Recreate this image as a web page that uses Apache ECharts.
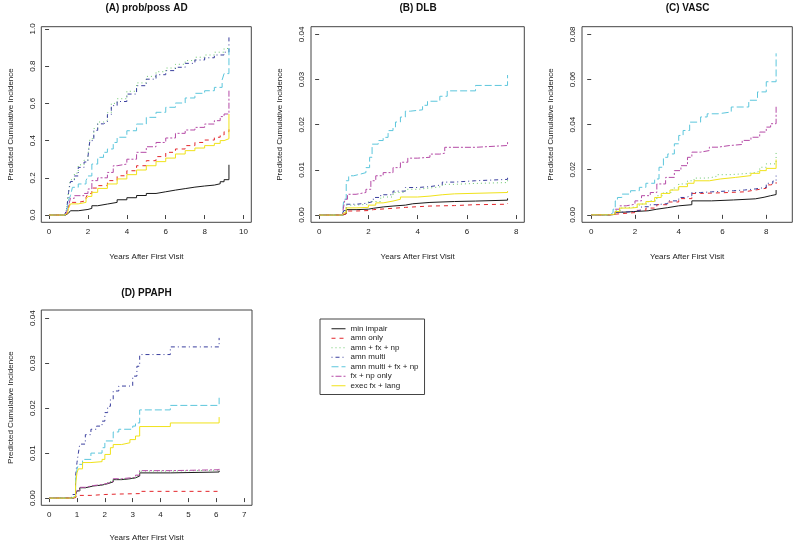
<!DOCTYPE html>
<html>
<head>
<meta charset="utf-8">
<script src="https://cdn.jsdelivr.net/npm/echarts@6.0.0/dist/echarts.min.js"></script>
<style>
html,body{margin:0;padding:0;background:#fff;}
#chart{width:800px;height:546px;}
</style>
</head>
<body>
<div id="chart"></div>
<script>
// ---------- labels ----------
const seriesNames = ["min impair", "amn only", "amn + fx + np", "amn multi", "amn multi + fx + np", "fx + np only", "exec fx + lang"];
const panelTitles = ["(A) prob/poss AD", "(B) DLB", "(C) VASC", "(D) PPAPH"];
const xAxisTitle = "Years After First Visit";
const yAxisTitle = "Predicted Cumulative Incidence";

// ---------- tick labels ----------
const xTicksA = [0, 2, 4, 6, 8, 10];
const yTicksA = [0, 0.2, 0.4, 0.6, 0.8, 1.0];
const xTicksB = [0, 2, 4, 6, 8];
const yTicksB = [0, 0.01, 0.02, 0.03, 0.04];
const xTicksC = [0, 2, 4, 6, 8];
const yTicksC = [0, 0.02, 0.04, 0.06, 0.08];
const xTicksD = [0, 1, 2, 3, 4, 5, 6, 7];
const yTicksD = [0, 0.01, 0.02, 0.03, 0.04];

// ---------- (A) prob/poss AD : [years, cumulative incidence] ----------
const AD_minImpair = [[0,0],[0.85,0.004],[0.95,0.01],[1.0,0.014],[1.1,0.023],[1.5,0.03],[2.0,0.036],[2.2,0.05],[2.5,0.059],[3.0,0.068],[3.5,0.082],[4.0,0.093],[4.5,0.105],[5.0,0.116],[5.5,0.125],[6.0,0.134],[6.5,0.142],[7.0,0.15],[7.5,0.156],[8.0,0.161],[8.5,0.168],[8.8,0.179],[9.0,0.19],[9.25,0.19],[9.25,0.27]];
const AD_amnOnly = [[0,0],[0.8,0.003],[0.9,0.01],[0.95,0.025],[1.0,0.045],[1.1,0.068],[1.5,0.077],[1.9,0.095],[2.0,0.116],[2.2,0.145],[2.5,0.158],[3.0,0.185],[3.5,0.211],[4.0,0.238],[4.5,0.265],[5.0,0.292],[5.5,0.314],[6.0,0.337],[6.5,0.355],[7.0,0.373],[7.5,0.39],[8.0,0.403],[8.5,0.418],[8.8,0.43],[9.0,0.448],[9.25,0.448],[9.25,0.46]];
const AD_amnFxNp = [[0,0],[0.8,0.005],[0.9,0.03],[0.95,0.08],[1.0,0.13],[1.1,0.19],[1.3,0.225],[1.5,0.27],[1.8,0.295],[2.0,0.325],[2.1,0.41],[2.3,0.465],[2.5,0.5],[2.8,0.51],[3.0,0.55],[3.2,0.6],[3.5,0.625],[4.0,0.665],[4.5,0.71],[5.0,0.745],[5.5,0.77],[6.0,0.79],[6.5,0.81],[7.0,0.83],[7.5,0.848],[8.0,0.86],[8.5,0.875],[9.0,0.895],[9.25,0.895],[9.25,0.9]];
const AD_amnMulti = [[0,0],[0.8,0.005],[0.9,0.03],[0.95,0.07],[1.0,0.12],[1.1,0.18],[1.3,0.21],[1.5,0.256],[1.8,0.285],[2.0,0.315],[2.1,0.4],[2.3,0.455],[2.5,0.49],[2.8,0.5],[3.0,0.54],[3.2,0.588],[3.5,0.61],[4.0,0.65],[4.5,0.695],[5.0,0.73],[5.5,0.754],[6.0,0.776],[6.5,0.794],[7.0,0.815],[7.5,0.833],[8.0,0.845],[8.5,0.86],[9.0,0.875],[9.25,0.88],[9.25,0.955]];
const AD_amnMultiFxNp = [[0,0],[0.8,0.005],[0.9,0.02],[0.95,0.05],[1.0,0.08],[1.1,0.104],[1.2,0.149],[1.5,0.167],[1.9,0.185],[2.0,0.21],[2.2,0.274],[2.5,0.31],[2.8,0.337],[3.0,0.355],[3.3,0.39],[3.5,0.418],[4.0,0.453],[4.5,0.489],[5.0,0.525],[5.5,0.552],[6.0,0.579],[6.5,0.602],[7.0,0.629],[7.5,0.654],[8.0,0.668],[8.5,0.686],[8.9,0.726],[9.0,0.76],[9.25,0.76],[9.25,0.9]];
const AD_fxNpOnly = [[0,0],[0.8,0.004],[0.9,0.015],[0.95,0.03],[1.0,0.05],[1.1,0.09],[1.3,0.104],[1.8,0.116],[2.0,0.14],[2.2,0.185],[2.5,0.2],[3.0,0.229],[3.3,0.265],[3.5,0.274],[4.0,0.3],[4.5,0.337],[5.0,0.367],[5.5,0.39],[6.0,0.414],[6.5,0.439],[7.0,0.457],[7.5,0.471],[8.0,0.489],[8.5,0.507],[8.8,0.529],[9.0,0.543],[9.25,0.543],[9.25,0.677]];
const AD_execFxLang = [[0,0],[0.8,0.003],[0.9,0.01],[0.95,0.02],[1.0,0.035],[1.1,0.06],[1.5,0.068],[1.9,0.086],[2.0,0.1],[2.2,0.122],[2.5,0.143],[3.0,0.167],[3.5,0.194],[4.0,0.217],[4.5,0.242],[5.0,0.265],[5.5,0.287],[6.0,0.306],[6.5,0.328],[7.0,0.346],[7.5,0.36],[8.0,0.373],[8.5,0.385],[8.8,0.4],[9.0,0.41],[9.25,0.41],[9.25,0.543]];

// ---------- (B) DLB ----------
const DLB_minImpair = [[0,0],[0.95,0.0001],[1.0,0.0003],[1.1,0.0012],[1.5,0.0013],[2.0,0.0015],[2.2,0.0018],[2.6,0.002],[3.0,0.0022],[3.5,0.0025],[3.8,0.0028],[4.5,0.003],[5.5,0.0031],[6.35,0.0033],[7.65,0.0035],[7.65,0.0037]];
const DLB_amnOnly = [[0,0],[0.95,0.0001],[1.0,0.0003],[1.1,0.0009],[1.5,0.001],[2.0,0.0012],[2.2,0.0015],[3.0,0.0017],[3.5,0.002],[4.5,0.0021],[5.5,0.0023],[6.35,0.0024],[7.65,0.0025],[7.65,0.0026]];
const DLB_amnFxNp = [[0,0],[0.95,0.0003],[1.0,0.001],[1.1,0.0022],[1.5,0.0024],[2.0,0.003],[2.5,0.004],[3.0,0.005],[3.5,0.0057],[4.0,0.006],[4.5,0.0063],[5.0,0.0068],[5.5,0.007],[6.3,0.0072],[7.65,0.0073],[7.65,0.0077]];
const DLB_amnMulti = [[0,0],[0.95,0.0003],[1.0,0.001],[1.1,0.0024],[1.5,0.0026],[1.9,0.003],[2.2,0.0039],[2.5,0.0045],[3.0,0.0053],[3.5,0.0061],[4.0,0.0063],[4.5,0.0067],[5.0,0.0073],[5.5,0.0076],[6.35,0.0079],[7.65,0.0079],[7.65,0.0083]];
const DLB_amnMultiFxNp = [[0,0],[0.95,0.0005],[1.0,0.0035],[1.1,0.0076],[1.2,0.0087],[1.4,0.0091],[1.7,0.0094],[1.9,0.0105],[2.05,0.0128],[2.15,0.0157],[2.4,0.0165],[2.6,0.0172],[2.8,0.0187],[3.0,0.0195],[3.1,0.0206],[3.3,0.0217],[3.5,0.023],[3.7,0.0233],[4.2,0.0243],[4.4,0.0252],[4.9,0.0263],[5.2,0.0275],[6.35,0.0287],[7.65,0.0287],[7.65,0.031]];
const DLB_fxNpOnly = [[0,0],[0.95,0.0005],[1.0,0.002],[1.05,0.0035],[1.15,0.0046],[1.5,0.005],[1.9,0.0057],[2.1,0.0076],[2.3,0.0087],[2.6,0.0094],[3.0,0.0105],[3.3,0.0117],[3.6,0.0126],[4.0,0.0128],[4.5,0.0135],[4.9,0.0137],[5.1,0.015],[6.35,0.0154],[7.65,0.0155],[7.65,0.0163]];
const DLB_execFxLang = [[0,0],[0.95,0.0002],[1.0,0.0005],[1.1,0.0016],[1.5,0.0017],[2.0,0.0022],[2.3,0.0027],[2.6,0.0031],[3.0,0.0035],[3.3,0.004],[4.0,0.0042],[4.5,0.0045],[5.0,0.0047],[5.5,0.005],[7.65,0.0051],[7.65,0.0053]];

// ---------- (C) VASC ----------
const VASC_minImpair = [[0,0],[0.8,0.0001],[1.0,0.0003],[1.1,0.0012],[1.5,0.0015],[2.0,0.0018],[2.6,0.0025],[3.0,0.0032],[3.5,0.004],[4.0,0.0045],[4.6,0.0062],[5.5,0.0066],[6.5,0.0071],[7.5,0.0078],[7.9,0.0085],[8.2,0.009],[8.45,0.0095],[8.45,0.011]];
const VASC_amnOnly = [[0,0],[0.8,0.0001],[1.0,0.0003],[1.1,0.001],[2.0,0.002],[2.5,0.003],[3.0,0.0045],[3.5,0.0057],[4.0,0.0072],[4.6,0.0095],[5.0,0.0098],[6.0,0.0102],[7.0,0.011],[7.5,0.0118],[8.0,0.0133],[8.2,0.0138],[8.45,0.0138],[8.45,0.0145]];
const VASC_amnFxNp = [[0,0],[0.8,0.0002],[1.0,0.0005],[1.1,0.002],[1.4,0.0033],[1.8,0.0035],[2.2,0.0048],[2.6,0.0062],[3.0,0.0085],[3.3,0.0099],[3.7,0.0119],[4.0,0.0137],[4.4,0.0151],[4.7,0.0163],[5.3,0.0169],[5.7,0.0178],[6.3,0.0181],[6.8,0.0186],[7.4,0.0193],[7.7,0.0211],[8.0,0.0226],[8.45,0.0226],[8.45,0.0278]];
const VASC_amnMulti = [[0,0],[0.8,0.0001],[1.0,0.0003],[1.1,0.0012],[1.5,0.0015],[2.0,0.0022],[2.3,0.0036],[2.7,0.0045],[3.0,0.005],[3.5,0.0062],[4.0,0.0077],[4.3,0.0085],[4.6,0.0099],[5.0,0.0102],[5.5,0.0107],[6.5,0.011],[7.0,0.0115],[7.5,0.0122],[8.0,0.014],[8.3,0.015],[8.45,0.015],[8.45,0.0174]];
const VASC_amnMultiFxNp = [[0,0],[0.8,0.0003],[0.9,0.001],[1.0,0.0025],[1.1,0.0062],[1.2,0.0077],[1.4,0.0092],[1.8,0.0107],[2.2,0.0122],[2.5,0.014],[2.9,0.0159],[3.1,0.0211],[3.3,0.0255],[3.5,0.027],[3.8,0.0315],[4.0,0.0352],[4.2,0.0374],[4.5,0.0411],[5.0,0.0434],[5.3,0.0448],[5.8,0.0456],[6.4,0.0478],[7.2,0.0508],[7.6,0.0545],[8.0,0.059],[8.45,0.059],[8.45,0.0716]];
const VASC_fxNpOnly = [[0,0],[0.8,0.0002],[1.0,0.001],[1.1,0.0025],[1.3,0.004],[1.6,0.0047],[2.0,0.0062],[2.3,0.0085],[2.7,0.0099],[3.0,0.0137],[3.4,0.0166],[3.8,0.0196],[4.1,0.0218],[4.4,0.0255],[4.6,0.0278],[5.0,0.0285],[5.4,0.03],[5.8,0.0307],[6.3,0.0312],[6.9,0.033],[7.3,0.0344],[7.7,0.0367],[8.0,0.0389],[8.2,0.0404],[8.45,0.0404],[8.45,0.0486]];
const VASC_execFxLang = [[0,0],[0.8,0.0001],[1.0,0.0004],[1.1,0.0015],[1.3,0.003],[1.8,0.0033],[2.1,0.0048],[2.5,0.0059],[2.9,0.0077],[3.2,0.0095],[3.6,0.011],[4.0,0.0125],[4.4,0.014],[4.7,0.0151],[5.4,0.0159],[5.9,0.0166],[6.6,0.0174],[7.3,0.0184],[7.7,0.0196],[8.0,0.0206],[8.45,0.0206],[8.45,0.0245]];

// ---------- (D) PPAPH ----------
const PPAPH_minImpair = [[0,0],[0.85,0.0002],[0.95,0.0008],[1.0,0.0016],[1.1,0.0023],[1.3,0.0027],[1.6,0.0029],[1.9,0.0032],[2.1,0.0036],[2.3,0.0041],[2.6,0.0043],[2.9,0.0045],[3.1,0.0049],[3.25,0.0056],[4.35,0.0058],[6.1,0.0058],[6.1,0.0061]];
const PPAPH_amnOnly = [[0,0],[0.85,0.0001],[0.95,0.0003],[1.0,0.0006],[1.5,0.0008],[2.0,0.0009],[2.5,0.001],[3.25,0.0015],[6.1,0.0015],[6.1,0.0016]];
const PPAPH_amnFxNp = [[0,0],[0.85,0.0002],[0.95,0.0009],[1.0,0.0016],[1.1,0.0023],[1.3,0.0027],[1.6,0.0029],[1.9,0.0032],[2.1,0.0037],[2.3,0.0042],[2.6,0.0044],[2.9,0.0045],[3.1,0.005],[3.25,0.006],[4.35,0.0062],[6.1,0.0062],[6.1,0.0065]];
const PPAPH_amnMulti = [[0,0],[0.75,0.0003],[0.85,0.0008],[0.95,0.0049],[1.0,0.0079],[1.05,0.01],[1.1,0.012],[1.3,0.0141],[1.5,0.0153],[1.7,0.016],[1.9,0.0171],[2.0,0.019],[2.1,0.0204],[2.2,0.0219],[2.3,0.0238],[2.5,0.0249],[3.0,0.0271],[3.15,0.0293],[3.25,0.0319],[4.35,0.0336],[6.1,0.0336],[6.1,0.0356]];
const PPAPH_amnMultiFxNp = [[0,0],[0.8,0.0004],[0.95,0.0041],[1.0,0.0064],[1.05,0.0075],[1.2,0.0086],[1.5,0.01],[1.9,0.0112],[2.0,0.0127],[2.3,0.0147],[2.5,0.0153],[3.0,0.016],[3.1,0.0167],[3.25,0.0196],[4.35,0.0206],[6.1,0.0206],[6.1,0.0223]];
const PPAPH_fxNpOnly = [[0,0],[0.85,0.0002],[0.95,0.0009],[1.0,0.0017],[1.1,0.0024],[1.3,0.0028],[1.6,0.003],[1.9,0.0033],[2.1,0.0037],[2.3,0.0043],[2.6,0.0045],[2.9,0.0046],[3.1,0.0051],[3.25,0.0061],[4.35,0.0063],[6.1,0.0063],[6.1,0.0067]];
const PPAPH_execFxLang = [[0,0],[0.8,0.0003],[0.95,0.003],[1.0,0.0056],[1.05,0.0065],[1.2,0.0079],[1.5,0.0081],[1.9,0.0086],[2.0,0.0097],[2.2,0.0112],[2.3,0.0119],[2.6,0.0123],[2.9,0.013],[3.1,0.0138],[3.25,0.0159],[4.35,0.0167],[6.1,0.0167],[6.1,0.018]];

// ---------- assembly ----------
const panelData = [
  [AD_minImpair, AD_amnOnly, AD_amnFxNp, AD_amnMulti, AD_amnMultiFxNp, AD_fxNpOnly, AD_execFxLang],
  [DLB_minImpair, DLB_amnOnly, DLB_amnFxNp, DLB_amnMulti, DLB_amnMultiFxNp, DLB_fxNpOnly, DLB_execFxLang],
  [VASC_minImpair, VASC_amnOnly, VASC_amnFxNp, VASC_amnMulti, VASC_amnMultiFxNp, VASC_fxNpOnly, VASC_execFxLang],
  [PPAPH_minImpair, PPAPH_amnOnly, PPAPH_amnFxNp, PPAPH_amnMulti, PPAPH_amnMultiFxNp, PPAPH_fxNpOnly, PPAPH_execFxLang]
];
const xTicks = [xTicksA, xTicksB, xTicksC, xTicksD];
const yTicks = [yTicksA, yTicksB, yTicksC, yTicksD];
const yDecimals = [1, 2, 2, 2];

const colors = ['#1a1a1a', '#e3262c', '#6cc86c', '#3a3f9e', '#5cc6dc', '#b54aa6', '#f0e21a'];
const dashes = ['solid', [4, 4], [1, 3], [1, 3, 4, 3], [7, 3], [2, 2, 6, 2], 'solid'];

const FONT = 'Liberation Sans, Arial, Helvetica, sans-serif';
const layout = [
  {left: 41.3, top: 26.7, width: 210, height: 195.6, xmin: -0.4, xmax: 10.4, ymin: -0.039, ymax: 1.012, tx: 146.5, ty: 3, xgap: 30},
  {left: 311, top: 26.7, width: 213.3, height: 195.6, xmin: -0.33, xmax: 8.33, ymin: -0.0016, ymax: 0.0417, tx: 418, ty: 3, xgap: 30},
  {left: 582, top: 26.7, width: 210.3, height: 195.6, xmin: -0.42, xmax: 9.19, ymin: -0.0033, ymax: 0.0834, tx: 687.5, ty: 3, xgap: 30},
  {left: 41.3, top: 310, width: 210.7, height: 195.3, xmin: -0.28, xmax: 7.28, ymin: -0.0016, ymax: 0.0418, tx: 146.5, ty: 288, xgap: 28.5}
];

const grid = [], xAxis = [], yAxis = [], title = [], series = [];
layout.forEach((L, p) => {
  grid.push({left: L.left, top: L.top, width: L.width, height: L.height, show: true,
    borderColor: '#444', borderWidth: 1, backgroundColor: 'transparent', containLabel: false});
  title.push({text: panelTitles[p], left: L.tx, top: L.ty, textAlign: 'center', padding: 0,
    textStyle: {fontFamily: FONT, fontSize: 10, fontWeight: 'bold', color: '#111'}});
  xAxis.push({type: 'value', gridIndex: p, min: L.xmin, max: L.xmax,
    axisLine: {show: false}, splitLine: {show: false},
    axisTick: {show: true, inside: false, length: 4, customValues: xTicks[p], lineStyle: {color: '#444'}},
    axisLabel: {show: true, customValues: xTicks[p], margin: 5, fontFamily: FONT, fontSize: 8, color: '#222',
      formatter: v => String(Math.round(v))},
    name: xAxisTitle, nameLocation: 'middle', nameGap: L.xgap,
    nameTextStyle: {fontFamily: FONT, fontSize: 8, color: '#222'}});
  yAxis.push({type: 'value', gridIndex: p, min: L.ymin, max: L.ymax,
    axisLine: {show: false}, splitLine: {show: false},
    axisTick: {show: true, inside: false, length: 4, customValues: yTicks[p], lineStyle: {color: '#444'}},
    axisLabel: {show: true, customValues: yTicks[p], rotate: 90, margin: 5, fontFamily: FONT, fontSize: 8, color: '#222',
      formatter: v => Number(v).toFixed(yDecimals[p])},
    name: yAxisTitle, nameLocation: 'middle', nameGap: 27,
    nameTextStyle: {fontFamily: FONT, fontSize: 8, color: '#222'}});
  panelData[p].forEach((d, s) => {
    series.push({type: 'line', name: seriesNames[s], xAxisIndex: p, yAxisIndex: p, data: d,
      step: 'end', symbol: 'none', showSymbol: false, clip: true, silent: true,
      lineStyle: {color: colors[s], width: 1, type: dashes[s]}, itemStyle: {color: colors[s]}});
  });
});

const chart = echarts.init(document.getElementById('chart'), null, {renderer: 'canvas'});
chart.setOption({
  animation: false,
  backgroundColor: '#ffffff',
  title, grid, xAxis, yAxis, series,
  legend: {
    data: seriesNames, orient: 'vertical', left: 320, top: 319,
    padding: [5, 6, 4, 11], itemWidth: 14, itemHeight: 6, itemGap: 0,
    itemStyle: {opacity: 0, borderWidth: 0},
    lineStyle: {width: 1},
    borderColor: '#444', borderWidth: 1, selectedMode: false,
    textStyle: {fontFamily: FONT, fontSize: 8, color: '#222', lineHeight: 9.5}
  }
});
</script>
</body>
</html>
